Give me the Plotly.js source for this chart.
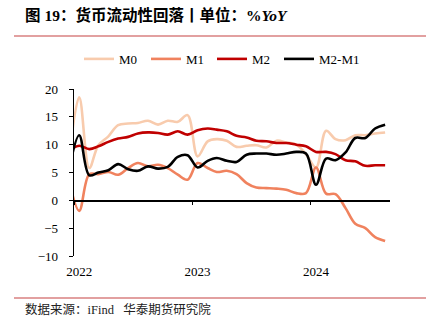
<!DOCTYPE html>
<html><head><meta charset="utf-8">
<script src="https://cdn.plot.ly/plotly-3.0.1.min.js"></script>
<style>html,body{margin:0;padding:0;background:#fff}</style>
</head><body><div id="chart" style="width:433px;height:329px"></div>
<script>
const months = ['2021-12','2022-01','2022-02','2022-03','2022-04','2022-05','2022-06','2022-07','2022-08','2022-09','2022-10','2022-11','2022-12',
  '2023-01','2023-02','2023-03','2023-04','2023-05','2023-06','2023-07','2023-08','2023-09','2023-10','2023-11','2023-12',
  '2024-01','2024-02','2024-03','2024-04','2024-05','2024-06','2024-07','2024-08'];
const m0 = [7.7,18.5,5.8,9.9,11.5,13.5,13.8,13.9,14.3,13.6,14.3,14.1,15.3,
  7.9,10.6,11.0,10.7,9.6,9.8,9.9,9.5,10.7,10.4,10.0,8.3,
  5.9,12.5,11.0,10.8,11.7,11.7,12.0,12.2];
const m1 = [3.5,-1.9,4.7,4.7,5.1,4.6,5.8,6.7,6.1,6.4,5.8,4.6,3.7,
  6.7,5.8,5.1,5.3,4.7,3.1,2.3,2.2,2.1,1.9,1.3,1.3,
  5.9,1.2,1.1,-1.4,-4.2,-5.0,-6.6,-7.3];
const m2 = [9.0,9.8,9.2,9.7,10.5,11.1,11.4,12.0,12.2,12.1,11.8,12.4,11.8,
  12.6,12.9,12.7,12.4,11.6,11.3,10.7,10.6,10.3,10.3,10.0,9.7,
  8.7,8.7,8.3,7.2,7.0,6.2,6.3,6.3];
const m2m1 = [5.5,11.7,4.5,5.0,5.4,6.5,5.6,5.3,6.1,5.7,6.0,7.8,8.1,
  5.9,7.1,7.6,7.1,6.9,8.2,8.4,8.4,8.2,8.4,8.7,8.4,
  2.8,7.5,7.2,8.6,11.2,11.2,12.9,13.6];
const seriesNames = ['M0','M1','M2','M2-M1'];
const yearTicks = ['2022','2023','2024'];

const xDates = months.map(m => m + '-17');
const serif = 'Liberation Serif, "Noto Sans CJK SC", serif';
const colors = ['#F8CBAD','#F0825E','#C00000','#000000'];
const vals = [m0, m1, m2, m2m1];
const legendIds = ['legend','legend2','legend3','legend4'];
const legendX = [0.0158, 0.2278, 0.4367, 0.6487];

const traces = vals.map((v, i) => ({
  x: xDates, y: v, name: seriesNames[i], type: 'scatter', mode: 'lines',
  legend: legendIds[i],
  line: {color: colors[i], width: 2.6, shape: 'spline', smoothing: 1},
  hoverinfo: 'skip'
}));
traces.push({x: [], y: [], xaxis: 'x2', yaxis: 'y', showlegend: false, hoverinfo: 'skip', mode: 'lines'});

const xr = ['2022-01-01', '2024-09-01'];
const layout = {
  width: 433, height: 329,
  margin: {l: 74, r: 43, t: 89, b: 73},
  paper_bgcolor: '#fff', plot_bgcolor: '#fff',
  showlegend: true,
  xaxis: {type: 'date', range: xr, showline: false, ticks: '', showgrid: false, zeroline: false,
    tickvals: yearTicks.map(y => y + '-01-17'), ticktext: yearTicks,
    tickfont: {family: serif, size: 13, color: '#000'}, ticklabelstandoff: 6},
  xaxis2: {type: 'date', range: xr, overlaying: 'x', anchor: 'free', position: 1/3,
    showline: true, linecolor: '#000', linewidth: 1.3, ticks: 'outside', ticklen: 3, tickcolor: '#000',
    tickvals: yearTicks.map(y => y + '-01-01'), showticklabels: false, showgrid: false, zeroline: false},
  yaxis: {range: [-10, 20], dtick: 5, tick0: 0, showline: true, linecolor: '#000', linewidth: 1.3,
    ticks: 'outside', ticklen: 4, tickcolor: '#000', showgrid: false, zeroline: false,
    tickfont: {family: serif, size: 13, color: '#000'}, ticklabelstandoff: 8},
  shapes: [
    {type: 'line', xref: 'paper', yref: 'paper', x0: -60/316, x1: 352/316, y0: 1 + 53/167, y1: 1 + 53/167,
      line: {color: '#D98080', width: 1.5}},
    {type: 'line', xref: 'paper', yref: 'paper', x0: -60/316, x1: 352/316, y0: -42/167, y1: -42/167,
      line: {color: '#D98080', width: 1.5}}
  ],
  annotations: [
    {xref: 'paper', yref: 'paper', x: -51/316, y: 1 + 74/167, xanchor: 'left', yanchor: 'middle', showarrow: false,
      text: '<b>图 19：货币流动性回落丨单位：%<i>YoY</i></b>', font: {family: serif, size: 15.5, color: '#000'}},
    {xref: 'paper', yref: 'paper', x: -51/316, y: -53/167, xanchor: 'left', yanchor: 'middle', showarrow: false,
      text: '数据来源：iFind   华泰期货研究院', font: {family: serif, size: 12.5, color: '#222'}}
  ]
};
legendIds.forEach((id, i) => {
  layout[id] = {orientation: 'h', x: legendX[i], xanchor: 'left', y: 1.18, yanchor: 'middle',
    font: {family: serif, size: 13, color: '#000'}, bgcolor: 'rgba(0,0,0,0)'};
});
Plotly.newPlot('chart', traces, layout, {staticPlot: true, displayModeBar: false});
</script></body></html>
